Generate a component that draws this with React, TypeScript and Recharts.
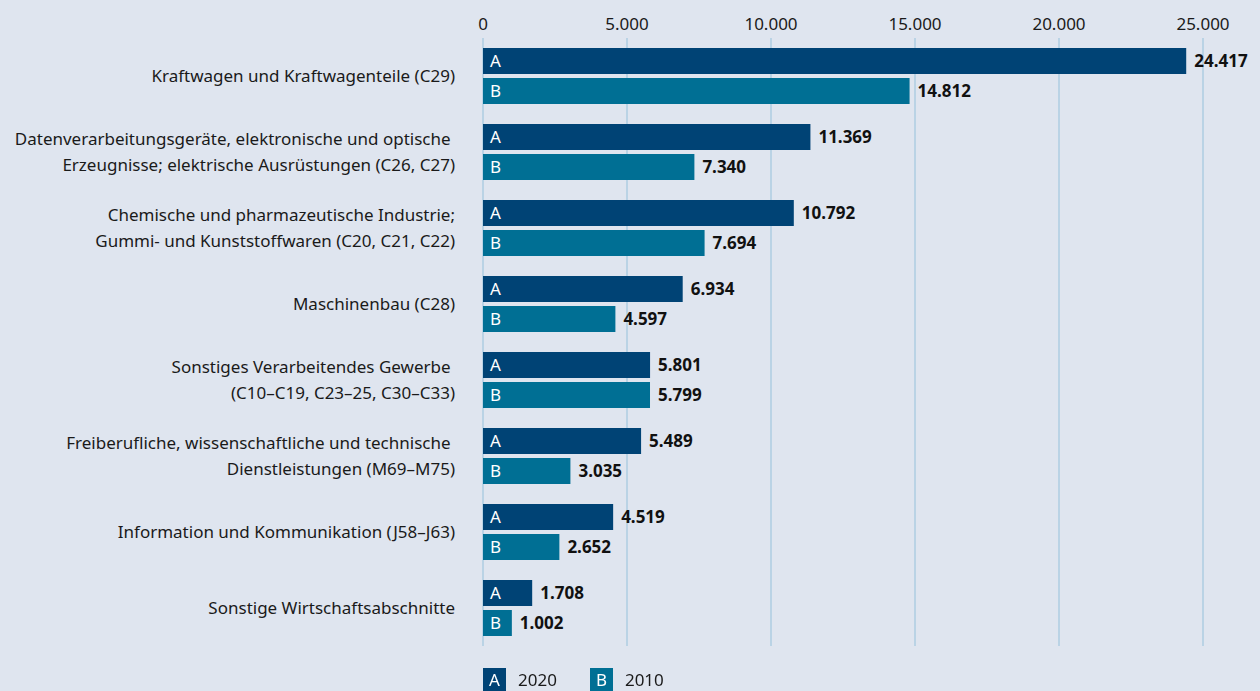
import React from 'react';
import { BarChart, Bar, XAxis, YAxis, CartesianGrid, LabelList, Legend } from 'recharts';

const categoryLines: string[][] = [
  ['Kraftwagen und Kraftwagenteile (C29)'],
  ['Datenverarbeitungsgeräte, elektronische und optische\u00a0', 'Erzeugnisse; elektrische Ausrüstungen (C26, C27)'],
  ['Chemische und pharmazeutische Industrie;', 'Gummi- und Kunststoffwaren (C20, C21, C22)'],
  ['Maschinenbau (C28)'],
  ['Sonstiges Verarbeitendes Gewerbe\u00a0', '(C10–C19, C23–25, C30–C33)'],
  ['Freiberufliche, wissenschaftliche und technische\u00a0', 'Dienstleistungen (M69–M75)'],
  ['Information und Kommunikation (J58–J63)'],
  ['Sonstige Wirtschaftsabschnitte'],
];
const values2020 = [24417, 11369, 10792, 6934, 5801, 5489, 4519, 1708];
const values2010 = [14812, 7340, 7694, 4597, 5799, 3035, 2652, 1002];
const xTicks = [0, 5000, 10000, 15000, 20000, 25000];
const seriesNames = ['2020', '2010'];
const seriesLetters = ['A', 'B'];

const COLOR_A = '#004375';
const COLOR_B = '#006f94';
const BG = '#dfe5ef';
const GRID = '#aecde2';
const FONT = '"Noto Sans", "Open Sans", sans-serif';
const FS = 17;

const data = categoryLines.map((lines, i) => ({
  cat: lines.join('|'),
  v2020: values2020[i],
  v2010: values2010[i],
}));

const fmt = (n: number) => String(n).replace(/\B(?=(\d{3})+(?!\d))/g, '.');

const CategoryTick = (props: any) => {
  const { x, y, payload } = props;
  const lines: string[] = String(payload.value).split('|');
  const lh = 26;
  const start = -((lines.length - 1) * lh) / 2;
  const tx = x - 20;
  return (
    <text textAnchor="end" fontSize={FS} fill="#1a1a1a" fontFamily={FONT} style={{ whiteSpace: 'pre' }}>
      {lines.map((l, i) => (
        <tspan key={i} x={tx} y={y + start + i * lh} dy="0.35em">
          {l}
        </tspan>
      ))}
    </text>
  );
};

const makeLetterLabel = (letter: string) => (props: any) => {
  const { x, y, height } = props;
  return (
    <text x={x + 7} y={y + height / 2} dy="0.35em" fill="#ffffff" fontSize={FS} fontFamily={FONT}>
      {letter}
    </text>
  );
};

const LegendContent = () => (
  <div style={{ display: 'flex', alignItems: 'center', fontFamily: FONT, fontSize: FS, color: '#1a1a1a' }}>
    {seriesNames.map((name, i) => (
      <div key={name} style={{ display: 'flex', alignItems: 'center', marginRight: 33 }}>
        <div
          style={{
            width: 23,
            height: 23,
            background: i === 0 ? COLOR_A : COLOR_B,
            color: '#fff',
            display: 'flex',
            alignItems: 'center',
            justifyContent: 'center',
            marginRight: 12,
          }}
        >
          {seriesLetters[i]}
        </div>
        <span>{name}</span>
      </div>
    ))}
  </div>
);

export default function App() {
  return (
    <div style={{ position: 'fixed', left: 0, top: 0, width: 1260, height: 691, background: BG }}>
      <BarChart
        width={1260}
        height={691}
        data={data}
        layout="vertical"
        margin={{ top: 8, right: 57, left: 0, bottom: 0 }}
        barSize={26}
        barGap={4}
      >
        <CartesianGrid horizontal={false} stroke={GRID} strokeWidth={1.5} />
        <XAxis
          type="number"
          orientation="top"
          domain={[0, 25000]}
          ticks={xTicks}
          tickFormatter={fmt}
          axisLine={false}
          tickLine={false}
          tick={{ fontSize: FS, fill: '#1a1a1a', fontFamily: FONT }}
          height={30}
        />
        <YAxis
          type="category"
          dataKey="cat"
          width={483}
          axisLine={false}
          tickLine={false}
          tick={<CategoryTick />}
          interval={0}
        />
        <Legend
          verticalAlign="bottom"
          align="left"
          height={45}
          content={<LegendContent />}
          wrapperStyle={{ left: 483, paddingTop: 22, height: 45, boxSizing: 'border-box' }}
        />
        <Bar dataKey="v2020" name="2020" fill={COLOR_A} isAnimationActive={false}>
          <LabelList content={makeLetterLabel('A')} />
          <LabelList
            dataKey="v2020"
            position="right"
            offset={8}
            formatter={(v: any) => fmt(v)}
            style={{ fontSize: FS, fontWeight: 700, fill: '#111', fontFamily: FONT }}
          />
        </Bar>
        <Bar dataKey="v2010" name="2010" fill={COLOR_B} isAnimationActive={false}>
          <LabelList content={makeLetterLabel('B')} />
          <LabelList
            dataKey="v2010"
            position="right"
            offset={8}
            formatter={(v: any) => fmt(v)}
            style={{ fontSize: FS, fontWeight: 700, fill: '#111', fontFamily: FONT }}
          />
        </Bar>
      </BarChart>
    </div>
  );
}
